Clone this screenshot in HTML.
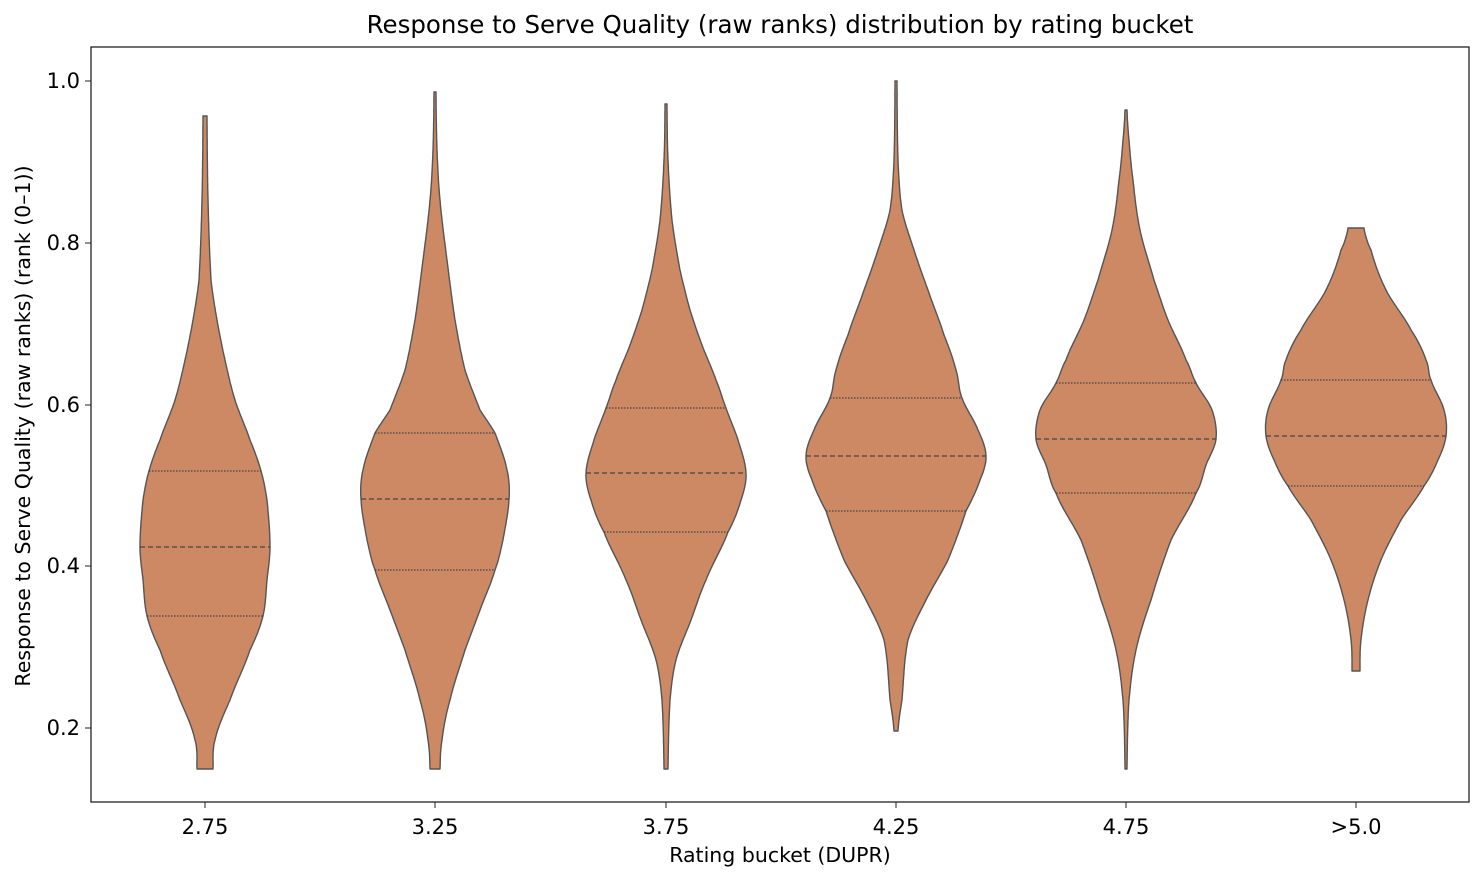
<!DOCTYPE html>
<html><head><meta charset="utf-8"><style>
body{margin:0;background:#fff;}
svg text{font-family:"DejaVu Sans","Liberation Sans",sans-serif;fill:#000;}
</style></head><body>
<svg id="s" width="1484" height="881" xmlns="http://www.w3.org/2000/svg">
<rect width="1484" height="881" fill="#fff"/>
<g id="v"></g>
<rect x="91" y="47" width="1378" height="755" fill="none" stroke="#222" stroke-width="1.3"/>
<text x="780" y="33" font-size="24.5" text-anchor="middle">Response to Serve Quality (raw ranks) distribution by rating bucket</text>
<text x="780" y="862" font-size="20.5" text-anchor="middle">Rating bucket (DUPR)</text>
<text transform="translate(30,426) rotate(-90)" font-size="20.5" text-anchor="middle">Response to Serve Quality (raw ranks) (rank (0–1))</text>
<g font-size="21" text-anchor="end">
<line x1="85" x2="91" y1="81" y2="81" stroke="#222"/><text x="80" y="88">1.0</text>
<line x1="85" x2="91" y1="243" y2="243" stroke="#222"/><text x="80" y="250">0.8</text>
<line x1="85" x2="91" y1="405" y2="405" stroke="#222"/><text x="80" y="412">0.6</text>
<line x1="85" x2="91" y1="566" y2="566" stroke="#222"/><text x="80" y="573">0.4</text>
<line x1="85" x2="91" y1="728" y2="728" stroke="#222"/><text x="80" y="735">0.2</text>
</g>
<g stroke="#222">
<line x1="205" x2="205" y1="802" y2="808"/><line x1="435" x2="435" y1="802" y2="808"/><line x1="666" x2="666" y1="802" y2="808"/>
<line x1="896" x2="896" y1="802" y2="808"/><line x1="1126" x2="1126" y1="802" y2="808"/><line x1="1356" x2="1356" y1="802" y2="808"/>
</g>
<g font-size="21" text-anchor="middle">
<text x="205" y="834">2.75</text><text x="435" y="834">3.25</text><text x="666" y="834">3.75</text>
<text x="896" y="834">4.25</text><text x="1126" y="834">4.75</text><text x="1356" y="834">&gt;5.0</text>
</g>
</svg>
<script>
var V=[
[205,[[116,2],[200,3],[280,6],[320,12],[360,20],[400,30],[440,45],[471,56],[500,62],[547,65],[580,62],[616,58],[650,45],[700,25],[740,10],[769,8]],[471,547,616]],
[435,[[92,1],[150,2],[200,5],[260,12],[320,20],[370,30],[410,45],[433,60],[470,72],[499,74],[540,68],[570,60],[610,45],[650,30],[700,15],[740,7],[769,5]],[433,499,570]],
[666,[[104,1],[160,2],[220,6],[270,14],[310,24],[345,36],[380,50],[408,60],[440,72],[473,80],[500,75],[532,62],[580,40],[620,25],[660,10],[700,4],[769,2]],[408,473,532]],
[896,[[81,1],[160,2],[210,6],[250,18],[290,32],[335,48],[370,60],[398,66],[430,82],[456,90],[480,84],[511,70],[560,52],[600,30],[640,12],[700,6],[731,2]],[398,456,511]],
[1126,[[110,1],[140,3],[180,7],[230,14],[280,28],[320,42],[360,60],[383,70],[410,86],[439,90],[465,80],[493,70],[540,45],[600,25],[650,10],[700,3],[769,1]],[383,439,493]],
[1356,[[228,8],[250,15],[290,30],[330,55],[360,70],[380,75],[410,88],[436,90],[460,82],[486,68],[520,45],[560,25],[600,12],[640,5],[671,4]],[380,436,486]]
];
function interp(p,y){for(var i=0;i<p.length-1;i++){if(y>=p[i][0]&&y<=p[i+1][0]){var t=(y-p[i][0])/(p[i+1][0]-p[i][0]);
var p0=p[Math.max(i-1,0)][1],p1=p[i][1],p2=p[i+1][1],p3=p[Math.min(i+2,p.length-1)][1];
return 0.5*((2*p1)+(-p0+p2)*t+(2*p0-5*p1+4*p2-p3)*t*t+(-p0+3*p1-3*p2+p3)*t*t*t);}}return p[p.length-1][1];}
var g=document.getElementById('v'),h='';
V.forEach(function(v){var cx=v[0],p=v[1],y0=p[0][0],y1=p[p.length-1][0],L=[],R=[];
for(var y=y0;y<=y1;y+=2){var w=Math.max(0.8,interp(p,y));R.push((cx+w).toFixed(1)+','+y);L.unshift((cx-w).toFixed(1)+','+y);}
var w1=Math.max(0.8,p[p.length-1][1]);R.push((cx+w1)+','+y1);L.unshift((cx-w1)+','+y1);
h+='<polygon points="'+R.concat(L).join(' ')+'" fill="#CC8963" stroke="#555" stroke-width="1.4" stroke-linejoin="round"/>';
v[2].forEach(function(y,i){var w=interp(p,y);h+='<line x1="'+(cx-w)+'" x2="'+(cx+w)+'" y1="'+y+'" y2="'+y+'" stroke="#444" stroke-width="1.3" stroke-dasharray="'+(i==1?'5,3':'1.5,1.5')+'"/>';});
});
g.innerHTML=h;
</script>
</body></html>
